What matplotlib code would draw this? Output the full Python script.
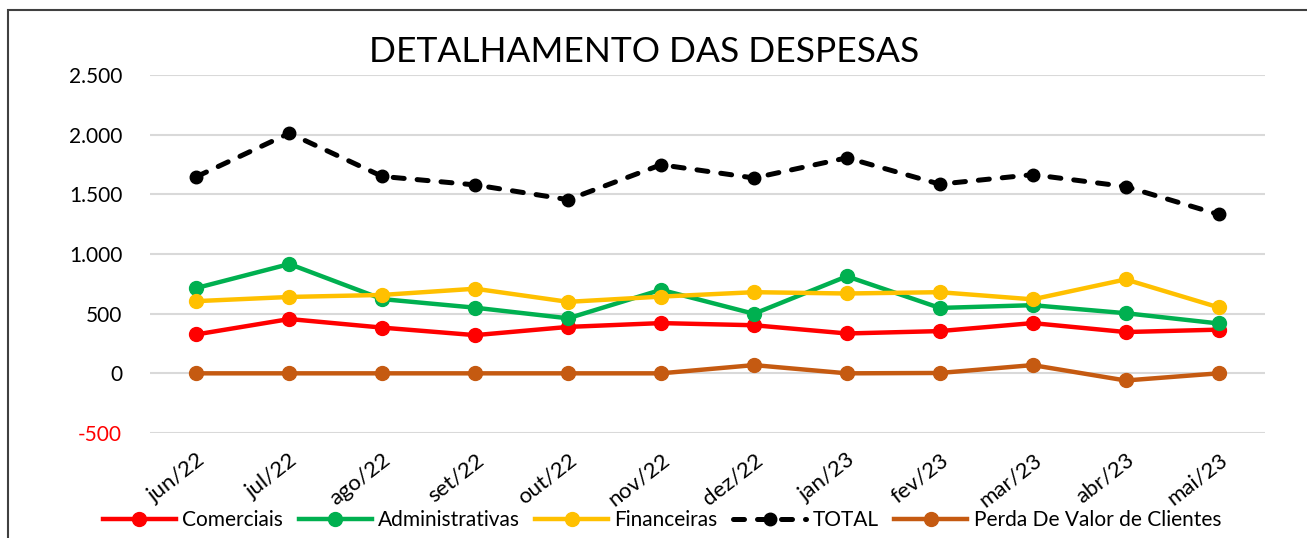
import matplotlib
matplotlib.use('Agg')
import matplotlib.pyplot as plt
from matplotlib.patches import Rectangle

plt.rcParams['font.family'] = ['Lato', 'DejaVu Sans']

meses = ['jun/22', 'jul/22', 'ago/22', 'set/22', 'out/22', 'nov/22',
         'dez/22', 'jan/23', 'fev/23', 'mar/23', 'abr/23', 'mai/23']

comerciais = [326, 455, 383, 320, 389, 421, 403, 334, 354, 421, 346, 366]
administrativas = [715, 916, 622, 550, 461, 700, 499, 813, 548, 571, 504, 418]
financeiras = [605, 640, 657, 709, 599, 643, 680, 669, 680, 620, 787, 553]
total = [1648, 2012, 1650, 1579, 1455, 1748, 1637, 1806, 1585, 1665, 1565, 1332]
perda = [0, 0, 0, 0, 0, 0, 69, 0, 3, 69, -60, 0]

yticks = [-500, 0, 500, 1000, 1500, 2000, 2500]
ytick_labels = ['-500', '0', '500', '1.000', '1.500', '2.000', '2.500']

fig = plt.figure(figsize=(13.07, 5.38), dpi=100)
ax = fig.add_axes([150 / 1307, 1 - 433 / 538, 1115 / 1307, 358 / 538])

x = list(range(len(meses)))
lw = 3.2
ms = 10
ax.plot(x, comerciais, color='#FF0000', lw=lw, marker='o', ms=ms, label='Comerciais')
ax.plot(x, administrativas, color='#00B050', lw=lw, marker='o', ms=ms, label='Administrativas')
ax.plot(x, financeiras, color='#FFC000', lw=lw, marker='o', ms=ms, label='Financeiras')
ax.plot(x, total, color='black', lw=3.6, ls=(0, (2.2, 2.6)), dash_capstyle='round',
        marker='o', ms=9, label='TOTAL')
ax.plot(x, perda, color='#C55A11', lw=lw, marker='o', ms=ms, label='Perda De Valor de Clientes')

ax.set_xlim(-0.5, len(meses) - 0.5)
ax.set_ylim(-500, 2500)
ax.set_yticks(yticks)
ax.set_yticklabels(ytick_labels, fontsize=15)
ax.get_yticklabels()[0].set_color('red')
ax.set_xticks(x)
ax.set_xticklabels(meses, rotation=38, ha='right', rotation_mode='anchor', fontsize=16)
ax.tick_params(length=0)
ax.tick_params(axis='y', pad=20)
ax.tick_params(axis='x', pad=12)
ax.grid(axis='y', color='#D9D9D9', lw=1.5)
ax.set_axisbelow(True)
for s in ax.spines.values():
    s.set_visible(False)

fig.text(644 / 1307, 1 - 52 / 538, 'DETALHAMENTO DAS DESPESAS', fontsize=25.5,
         ha='center', va='center')

fig.legend(loc='center', bbox_to_anchor=(662 / 1307, 1 - 520 / 538),
           ncol=5, frameon=False, fontsize=15, handlelength=3.5, columnspacing=0.75,
           handletextpad=0.3, borderaxespad=0, borderpad=0)

fig.patches.append(Rectangle((8 / 1307, -0.1), 1.2, 1 - 10 / 538 + 0.1,
                             transform=fig.transFigure, fill=False,
                             edgecolor='#404040', lw=1.5))

fig.savefig('out.png', dpi=100)
